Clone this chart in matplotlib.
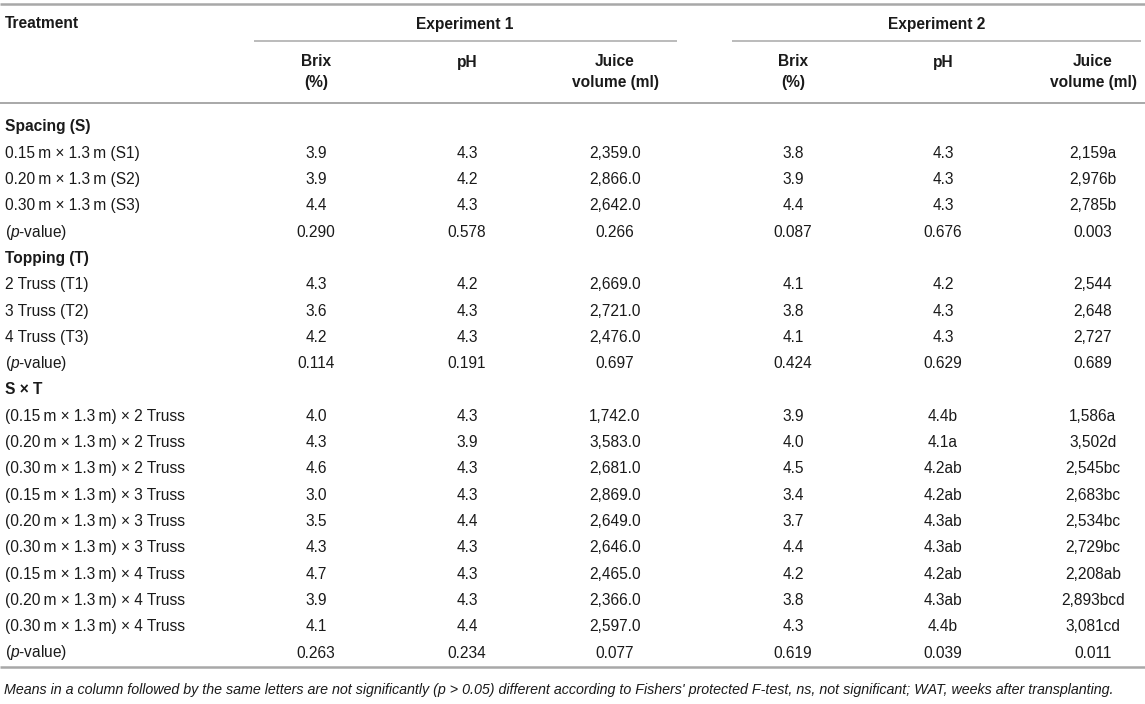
import matplotlib
matplotlib.use("Agg")
import matplotlib.pyplot as plt

plt.rcParams['font.family'] = ['Liberation Sans', 'DejaVu Sans']
plt.rcParams['mathtext.fontset'] = 'custom'
plt.rcParams['mathtext.rm'] = 'Liberation Sans'
plt.rcParams['mathtext.it'] = 'Liberation Sans:italic'
plt.rcParams['mathtext.bf'] = 'Liberation Sans:bold'

# ---------------- data ----------------
TS = "\u2009"  # thin space
spacing_labels = [f"0.15{TS}m × 1.3{TS}m (S1)", f"0.20{TS}m × 1.3{TS}m (S2)", f"0.30{TS}m × 1.3{TS}m (S3)"]
topping_labels = ["2 Truss (T1)", "3 Truss (T2)", "4 Truss (T3)"]
sxt_labels = [f"(0.{s}{TS}m × 1.3{TS}m) × {t} Truss" for t in (2, 3, 4) for s in ("15", "20", "30")]

# Experiment 1
brix1_S = [3.9, 3.9, 4.4];  brix1_T = [4.3, 3.6, 4.2]
brix1_SxT = [4.0, 4.3, 4.6, 3.0, 3.5, 4.3, 4.7, 3.9, 4.1]
brix1_p = [0.290, 0.114, 0.263]
ph1_S = [4.3, 4.2, 4.3];  ph1_T = [4.2, 4.3, 4.3]
ph1_SxT = [4.3, 3.9, 4.3, 4.3, 4.4, 4.3, 4.3, 4.3, 4.4]
ph1_p = [0.578, 0.191, 0.234]
juice1_S = [2359.0, 2866.0, 2642.0];  juice1_T = [2669.0, 2721.0, 2476.0]
juice1_SxT = [1742.0, 3583.0, 2681.0, 2869.0, 2649.0, 2646.0, 2465.0, 2366.0, 2597.0]
juice1_p = [0.266, 0.697, 0.077]

# Experiment 2
brix2_S = [3.8, 3.9, 4.4];  brix2_T = [4.1, 3.8, 4.1]
brix2_SxT = [3.9, 4.0, 4.5, 3.4, 3.7, 4.4, 4.2, 3.8, 4.3]
brix2_p = [0.087, 0.424, 0.619]
ph2_S = [4.3, 4.3, 4.3];  ph2_T = [4.2, 4.3, 4.3]
ph2_SxT = [4.4, 4.1, 4.2, 4.2, 4.3, 4.3, 4.2, 4.3, 4.4]
ph2_SxT_letters = ["b", "a", "ab", "ab", "ab", "ab", "ab", "ab", "b"]
ph2_p = [0.676, 0.629, 0.039]
juice2_S = [2159, 2976, 2785];  juice2_S_letters = ["a", "b", "b"]
juice2_T = [2544, 2648, 2727]
juice2_SxT = [1586, 3502, 2545, 2683, 2534, 2729, 2208, 2893, 3081]
juice2_SxT_letters = ["a", "d", "bc", "bc", "bc", "bc", "ab", "bcd", "cd"]
juice2_p = [0.003, 0.689, 0.011]

footnote = ("Means in a column followed by the same letters are not significantly (p > 0.05) "
            "different according to Fishers' protected F-test, ns, not significant; WAT, weeks after transplanting.")

# ---------------- build table rows ----------------
def col(S, T, SxT, p, fmt, lS=None, lT=None, lSxT=None):
    lS = lS or [""] * len(S); lT = lT or [""] * len(T); lSxT = lSxT or [""] * len(SxT)
    out = [""]
    out += [fmt(v) + l for v, l in zip(S, lS)] + [f"{p[0]:.3f}", ""]
    out += [fmt(v) + l for v, l in zip(T, lT)] + [f"{p[1]:.3f}", ""]
    out += [fmt(v) + l for v, l in zip(SxT, lSxT)] + [f"{p[2]:.3f}"]
    return out

f1 = lambda v: f"{v:.1f}"
fj1 = lambda v: f"{v:,.1f}"
fj2 = lambda v: f"{v:,.0f}"

columns = [
    col(brix1_S, brix1_T, brix1_SxT, brix1_p, f1),
    col(ph1_S, ph1_T, ph1_SxT, ph1_p, f1),
    col(juice1_S, juice1_T, juice1_SxT, juice1_p, fj1),
    col(brix2_S, brix2_T, brix2_SxT, brix2_p, f1),
    col(ph2_S, ph2_T, ph2_SxT, ph2_p, f1, lSxT=ph2_SxT_letters),
    col(juice2_S, juice2_T, juice2_SxT, juice2_p, fj2, lS=juice2_S_letters, lSxT=juice2_SxT_letters),
]

pval = r"($\mathit{p}$-value)"
labels = (["Spacing (S)"] + spacing_labels + [pval] + ["Topping (T)"] + topping_labels + [pval]
          + ["S × T"] + sxt_labels + [pval])
bold_rows = {0, 5, 10}

# ---------------- draw ----------------
W, H = 1145, 704
fig = plt.figure(figsize=(W / 100, H / 100), dpi=100)
ax = fig.add_axes([0, 0, 1, 1])
ax.set_xlim(0, W)
ax.set_ylim(H, 0)
ax.axis("off")

fs = 11.2
tc = "#1a1a1a"
lc = "#a8a8a8"

col_x = [316, 467, 615, 793, 943, 1093]
sub_heads = [("Brix", "(%)"), ("pH", ""), ("Juice", "volume (ml)")] * 2

# rules
ax.plot([0, W], [4, 4], color=lc, lw=1.8, solid_capstyle="butt")
ax.plot([254, 677], [41, 41], color=lc, lw=1.1, solid_capstyle="butt")
ax.plot([732, 1141], [41, 41], color=lc, lw=1.1, solid_capstyle="butt")
ax.plot([0, W], [103, 103], color=lc, lw=1.4, solid_capstyle="butt")
ax.plot([0, W], [667, 667], color=lc, lw=1.8, solid_capstyle="butt")

# headers
ax.text(5, 24, "Treatment", fontsize=fs, fontweight="bold", color=tc, va="center", ha="left")
ax.text(465, 24, "Experiment 1", fontsize=fs, fontweight="bold", color=tc, va="center", ha="center")
ax.text(937, 24, "Experiment 2", fontsize=fs, fontweight="bold", color=tc, va="center", ha="center")
for x, (h1, h2) in zip(col_x, sub_heads):
    ax.text(x, 62, h1, fontsize=fs, fontweight="bold", color=tc, va="center", ha="center")
    if h2:
        ax.text(x, 82, h2, fontsize=fs, fontweight="bold", color=tc, va="center", ha="center")

# body
y0, dy = 127, 26.3
for i, lab in enumerate(labels):
    y = y0 + i * dy
    ax.text(5, y, lab, fontsize=fs, color=tc, va="center", ha="left",
            fontweight="bold" if i in bold_rows else "normal")
    for x, c in zip(col_x, columns):
        if c[i]:
            ax.text(x, y, c[i], fontsize=fs, color=tc, va="center", ha="center")

ax.text(4, 690, footnote, fontsize=10.25, style="italic", color=tc, va="center", ha="left")

fig.savefig("out.png", dpi=100)
